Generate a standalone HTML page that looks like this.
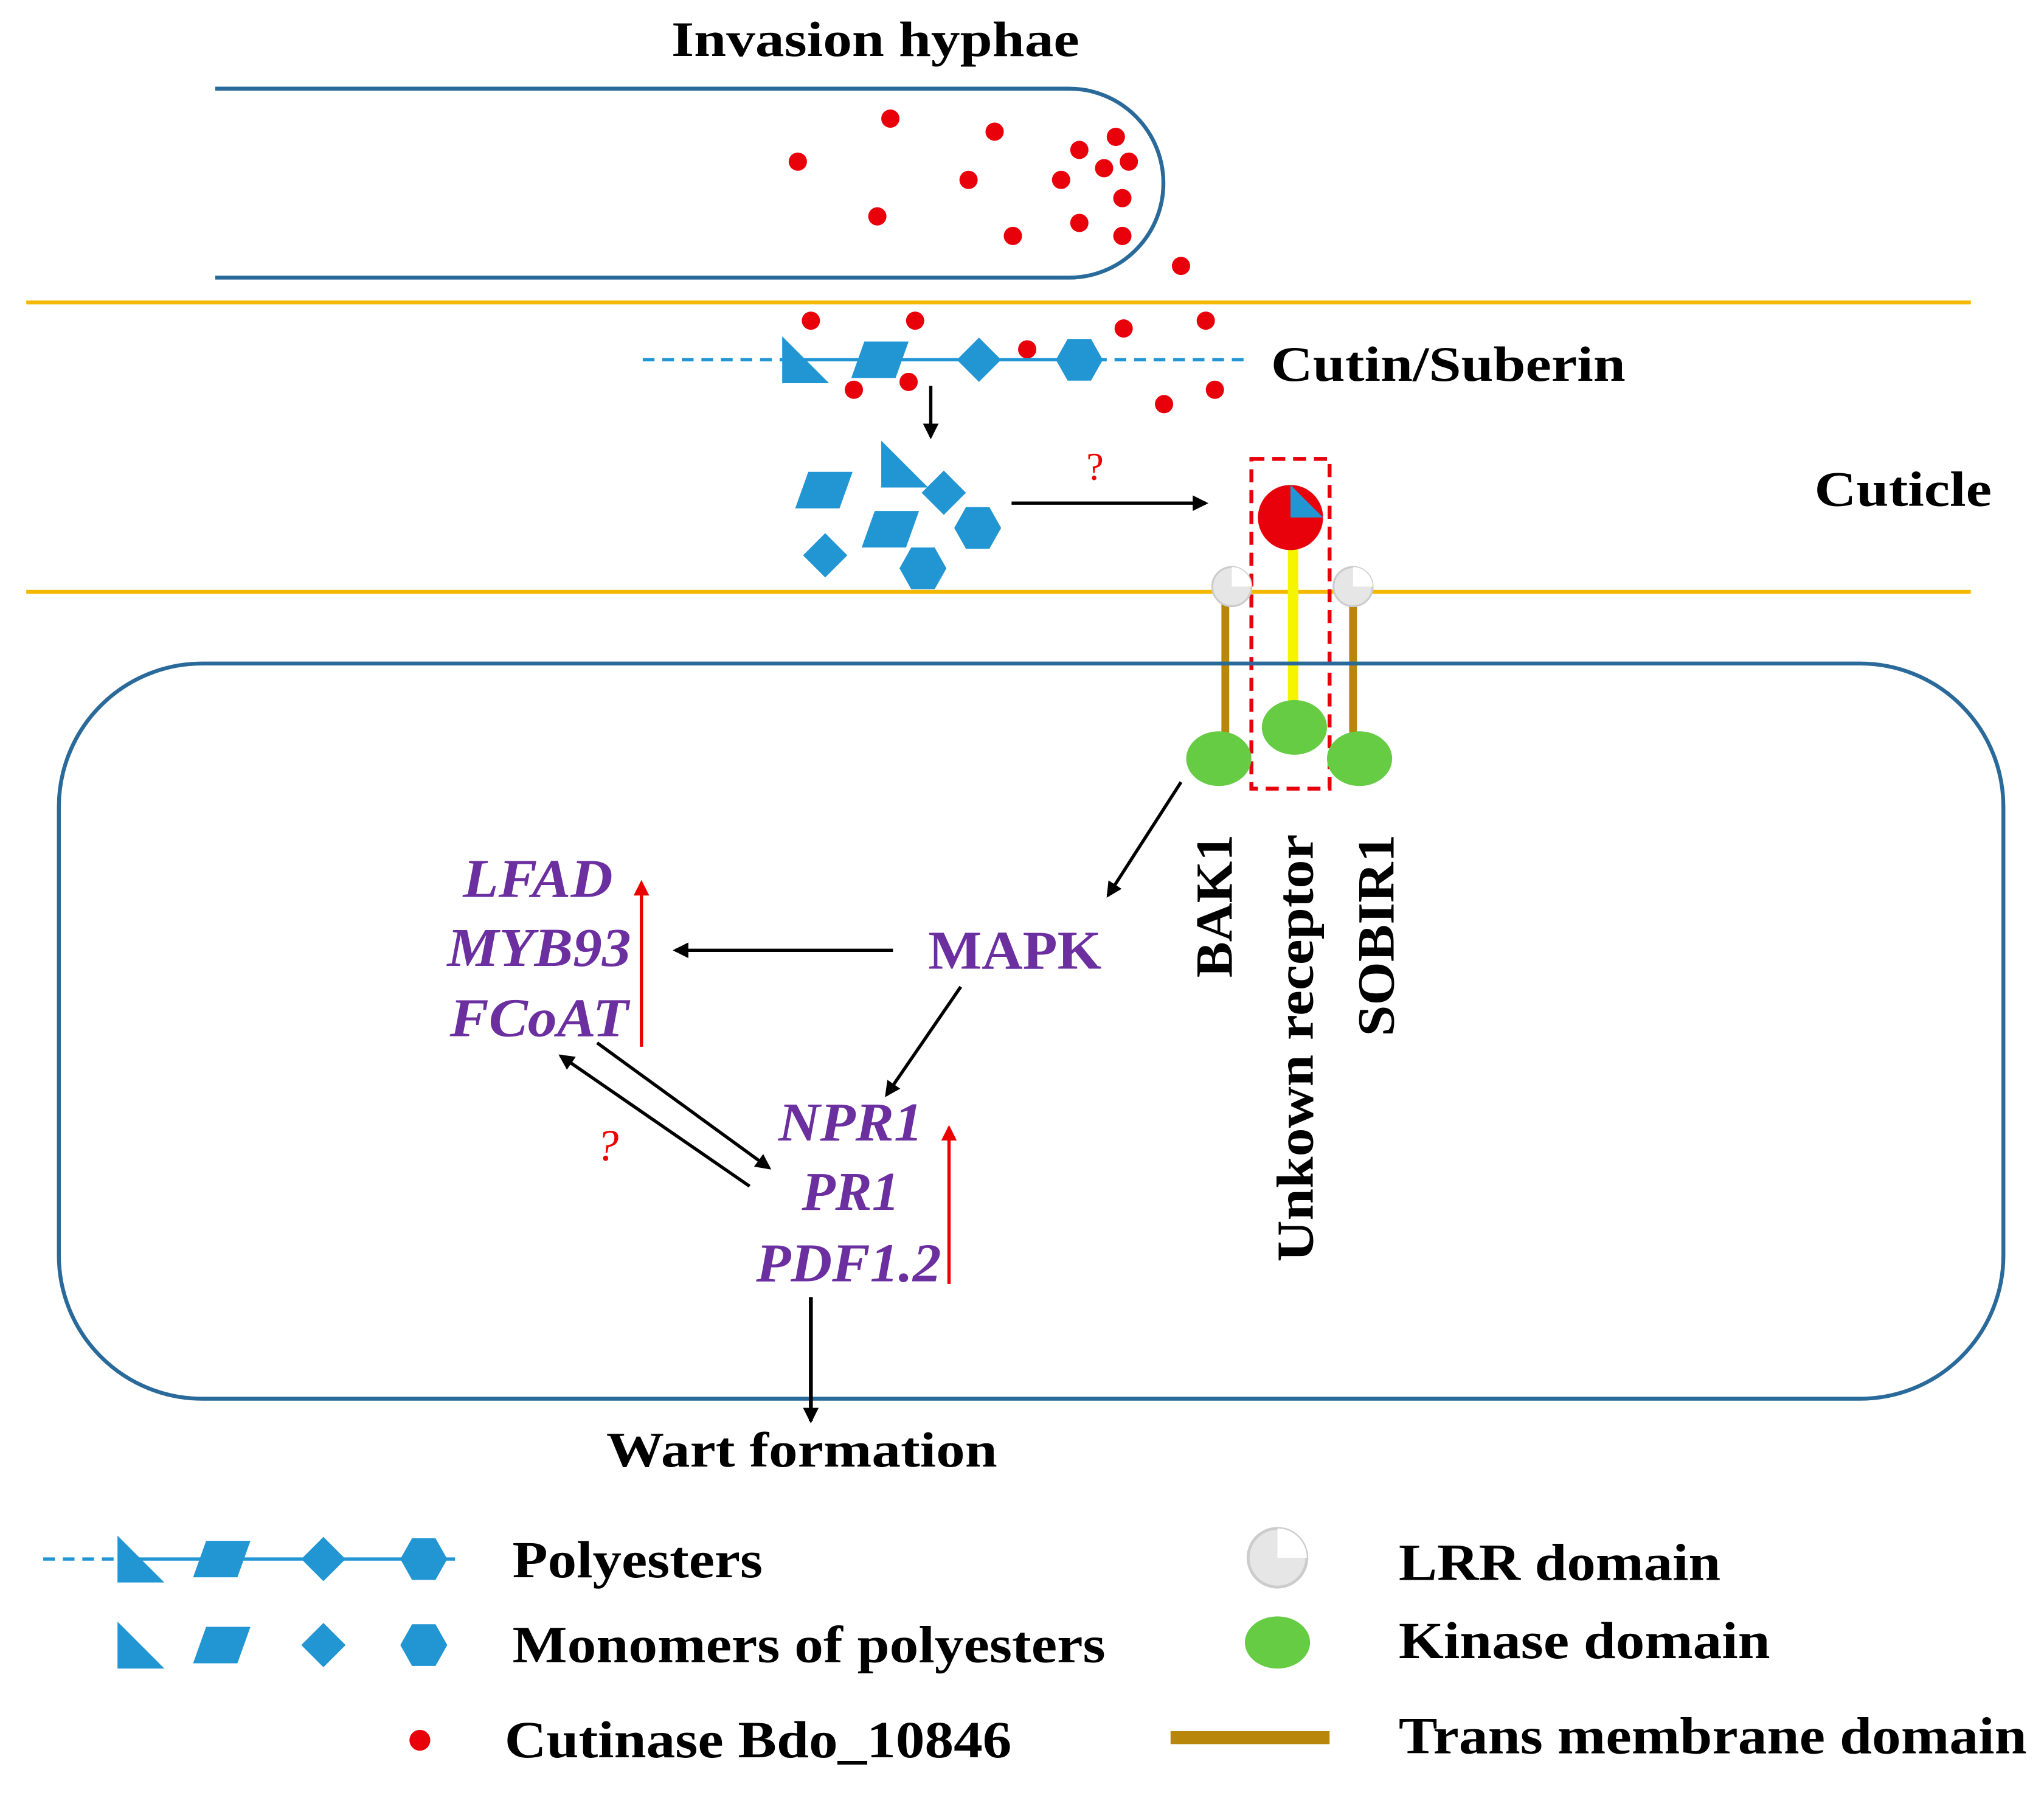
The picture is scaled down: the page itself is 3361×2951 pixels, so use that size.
<!DOCTYPE html>
<html><head><meta charset="utf-8"><style>html,body{margin:0;padding:0;background:#fff}svg{display:block}</style></head>
<body>
<svg width="3361" height="2951" viewBox="0 0 1568 1377" xmlns="http://www.w3.org/2000/svg" font-family="Liberation Serif, serif" font-weight="bold">
<defs>
<marker id="ab" markerWidth="12" markerHeight="12" refX="10" refY="6" orient="auto" markerUnits="userSpaceOnUse"><path d="M0,0 L12,6 L0,12 z" fill="#000"/></marker>
<marker id="ar" markerWidth="12" markerHeight="12" refX="10" refY="6" orient="auto" markerUnits="userSpaceOnUse"><path d="M0,0 L12,6 L0,12 z" fill="#e00"/></marker>
<g id="tri"><path d="M-18,-18 L-18,18 L18,18 Z" fill="#2196d3"/></g>
<g id="par"><path d="M-12,-14 L22,-14 L12,14 L-22,14 Z" fill="#2196d3"/></g>
<g id="dia"><path d="M0,-17 L17,0 L0,17 L-17,0 Z" fill="#2196d3"/></g>
<g id="hex"><path d="M-9,-16 L9,-16 L18,0 L9,16 L-9,16 L-18,0 Z" fill="#2196d3"/></g>
<g id="lrr"><circle r="15" fill="#e6e6e6" stroke="#ccc" stroke-width="1.5"/><path d="M0,0 L0,-15 A15,15 0 0 1 15,0 Z" fill="#fff"/></g>
</defs>
<text x="515" y="43" font-size="38" textLength="313" lengthAdjust="spacingAndGlyphs">Invasion hyphae</text>
<path d="M165,68 L820,68 A72.5,72.5 0 0 1 820,213 L165,213" fill="none" stroke="#2a6a9a" stroke-width="3"/>
<line x1="20" y1="232" x2="1512" y2="232" stroke="#f5b800" stroke-width="3"/>
<line x1="20" y1="454" x2="1512" y2="454" stroke="#f5b800" stroke-width="3"/>
<g fill="#e8000b">
<circle cx="612" cy="124" r="7"/><circle cx="683" cy="91" r="7"/><circle cx="763" cy="101" r="7"/><circle cx="743" cy="138" r="7"/><circle cx="673" cy="166" r="7"/><circle cx="777" cy="181" r="7"/><circle cx="814" cy="138" r="7"/><circle cx="828" cy="115" r="7"/><circle cx="856" cy="105" r="7"/><circle cx="847" cy="129" r="7"/><circle cx="866" cy="124" r="7"/><circle cx="861" cy="152" r="7"/><circle cx="828" cy="171" r="7"/><circle cx="861" cy="181" r="7"/><circle cx="906" cy="204" r="7"/><circle cx="622" cy="246" r="7"/><circle cx="702" cy="246" r="7"/><circle cx="862" cy="252" r="7"/><circle cx="925" cy="246" r="7"/><circle cx="788" cy="268" r="7"/><circle cx="655" cy="299" r="7"/><circle cx="697" cy="293" r="7"/><circle cx="893" cy="310" r="7"/><circle cx="932" cy="299" r="7"/>
</g>
<line x1="493" y1="276" x2="600" y2="276" stroke="#2196d3" stroke-width="2.5" stroke-dasharray="9,6"/>
<line x1="600" y1="276" x2="840" y2="276" stroke="#2196d3" stroke-width="2.5"/>
<line x1="840" y1="276" x2="958" y2="276" stroke="#2196d3" stroke-width="2.5" stroke-dasharray="9,6"/>
<use href="#tri" x="618" y="276"/><use href="#par" x="675" y="276"/><use href="#dia" x="751" y="276"/><use href="#hex" x="828" y="276"/>
<text x="975" y="292" font-size="38" textLength="272" lengthAdjust="spacingAndGlyphs">Cutin/Suberin</text>
<line x1="714" y1="296" x2="714" y2="335" stroke="#000" stroke-width="2.5" marker-end="url(#ab)"/>
<use href="#par" x="632" y="376"/><use href="#par" x="683" y="406"/><use href="#tri" x="694" y="356"/><use href="#dia" x="724" y="378"/><use href="#dia" x="633" y="426"/><use href="#hex" x="750" y="405"/><use href="#hex" x="708" y="436"/>
<line x1="776" y1="386" x2="925" y2="386" stroke="#000" stroke-width="2.5" marker-end="url(#ab)"/>
<text x="840" y="368" font-size="30" fill="#e00" text-anchor="middle" font-weight="normal">?</text>
<text x="1392" y="388" font-size="38" textLength="136" lengthAdjust="spacingAndGlyphs">Cuticle</text>
<rect x="960" y="352" width="60" height="253" fill="none" stroke="#e8000b" stroke-width="3" stroke-dasharray="10,6"/>
<line x1="940" y1="460" x2="940" y2="565" stroke="#b8860b" stroke-width="6"/>
<line x1="1038" y1="460" x2="1038" y2="565" stroke="#b8860b" stroke-width="6"/>
<line x1="992" y1="420" x2="992" y2="545" stroke="#f5f500" stroke-width="8"/>
<circle cx="990" cy="397" r="25" fill="#e8000b"/>
<path d="M990,372 L1015,397 L990,397 Z" fill="#2196d3"/>
<use href="#lrr" x="945" y="450"/><use href="#lrr" x="1038" y="450"/>
<rect x="45" y="509" width="1492" height="564" rx="110" fill="none" stroke="#2a6a9a" stroke-width="3"/>
<g fill="#66cc44"><ellipse cx="935" cy="582" rx="25" ry="21"/><ellipse cx="993" cy="558" rx="25" ry="21"/><ellipse cx="1043" cy="582" rx="25" ry="21"/></g>
<text transform="translate(945,750) rotate(-90)" font-size="40" textLength="110" lengthAdjust="spacingAndGlyphs">BAK1</text>
<text transform="translate(1007,968) rotate(-90)" font-size="40" textLength="328" lengthAdjust="spacingAndGlyphs">Unkown receptor</text>
<text transform="translate(1069,795) rotate(-90)" font-size="40" textLength="155" lengthAdjust="spacingAndGlyphs">SOBIR1</text>
<line x1="906" y1="600" x2="850" y2="687" stroke="#000" stroke-width="2.5" marker-end="url(#ab)"/>
<g fill="#6b2fa0" font-size="42">
<text x="712" y="743" textLength="133" lengthAdjust="spacingAndGlyphs">MAPK</text>
<g font-style="italic"><text x="355" y="688" textLength="115" lengthAdjust="spacingAndGlyphs">LFAD</text><text x="343" y="741" textLength="141" lengthAdjust="spacingAndGlyphs">MYB93</text><text x="345" y="795" textLength="137" lengthAdjust="spacingAndGlyphs">FCoAT</text></g>
<g font-style="italic"><text x="597" y="875" textLength="111" lengthAdjust="spacingAndGlyphs">NPR1</text><text x="615" y="928" textLength="75" lengthAdjust="spacingAndGlyphs">PR1</text><text x="580" y="983" textLength="142" lengthAdjust="spacingAndGlyphs">PDF1.2</text></g>
</g>
<line x1="685" y1="729" x2="518" y2="729" stroke="#000" stroke-width="2.5" marker-end="url(#ab)"/>
<line x1="492" y1="803" x2="492" y2="677" stroke="#e00" stroke-width="2.5" marker-end="url(#ar)"/>
<line x1="737" y1="757" x2="680" y2="840" stroke="#000" stroke-width="2.5" marker-end="url(#ab)"/>
<line x1="728" y1="985" x2="728" y2="865" stroke="#e00" stroke-width="2.5" marker-end="url(#ar)"/>
<line x1="575" y1="910" x2="430" y2="810" stroke="#000" stroke-width="2.5" marker-end="url(#ab)"/>
<line x1="458" y1="800" x2="590" y2="896" stroke="#000" stroke-width="2.5" marker-end="url(#ab)"/>
<text x="466" y="890" font-size="34" fill="#e00" font-style="italic" text-anchor="middle" font-weight="normal">?</text>
<line x1="622" y1="995" x2="622" y2="1090" stroke="#000" stroke-width="3" marker-end="url(#ab)"/>
<text x="465" y="1125" font-size="38" textLength="300" lengthAdjust="spacingAndGlyphs">Wart formation</text>
<line x1="33" y1="1196" x2="100" y2="1196" stroke="#2196d3" stroke-width="2.5" stroke-dasharray="9,6"/>
<line x1="100" y1="1196" x2="340" y2="1196" stroke="#2196d3" stroke-width="2.5"/>
<line x1="340" y1="1196" x2="355" y2="1196" stroke="#2196d3" stroke-width="2.5" stroke-dasharray="9,6"/>
<use href="#tri" x="108" y="1196"/><use href="#par" x="170" y="1196"/><use href="#dia" x="248" y="1196"/><use href="#hex" x="325" y="1196"/>
<use href="#tri" x="108" y="1262"/><use href="#par" x="170" y="1262"/><use href="#dia" x="248" y="1262"/><use href="#hex" x="325" y="1262"/>
<circle cx="322" cy="1335" r="8" fill="#e8000b"/>
<g font-size="40">
<text x="393" y="1210" textLength="192" lengthAdjust="spacingAndGlyphs">Polyesters</text>
<text x="393" y="1275" textLength="455" lengthAdjust="spacingAndGlyphs">Monomers of polyesters</text>
<text x="387" y="1348" textLength="389" lengthAdjust="spacingAndGlyphs">Cutinase Bdo_10846</text>
<text x="1073" y="1212" textLength="247" lengthAdjust="spacingAndGlyphs">LRR domain</text>
<text x="1073" y="1272" textLength="285" lengthAdjust="spacingAndGlyphs">Kinase domain</text>
<text x="1073" y="1345" textLength="482" lengthAdjust="spacingAndGlyphs">Trans membrane domain</text>
</g>
<g transform="translate(980,1195) scale(1.5)"><use href="#lrr"/></g>
<ellipse cx="980" cy="1260" rx="25" ry="20" fill="#66cc44"/>
<line x1="898" y1="1333" x2="1020" y2="1333" stroke="#b8860b" stroke-width="10"/>
</svg>
</body></html>
